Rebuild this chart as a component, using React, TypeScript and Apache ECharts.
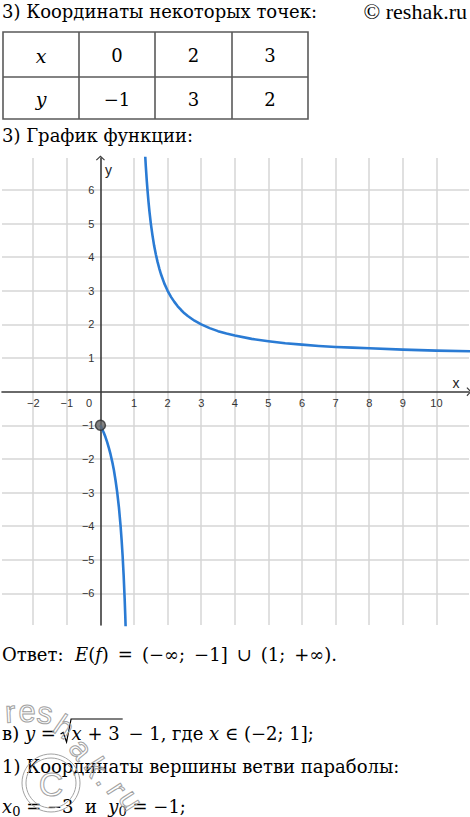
import React, { useEffect, useRef } from "react";
import * as echarts from "echarts";

const PAGE_W = 470;
const PAGE_H = 817;

// Table of sample points of y = (x + 1) / (x - 1)
const tableRowX = ["0", "2", "3"];
const tableRowY = ["\u22121", "3", "2"];

// Axis ticks and grid
const xTickValues = [-2, -1, 1, 2, 3, 4, 5, 6, 7, 8, 9, 10];
const yTickValues = [-6, -5, -4, -3, -2, -1, 1, 2, 3, 4, 5, 6];
const xGridValues = [-2, -1, 1, 2, 3, 4, 5, 6, 7, 8, 9, 10];
const yGridValues = [-6, -5, -4, -3, -2, -1, 1, 2, 3, 4, 5, 6];
const xRange = [-2.93, 10.97];
const yRange = [-6.94, 6.95];

// Right branch of the hyperbola
const rightBranchX = [1.33, 1.35, 1.38, 1.4, 1.43, 1.46, 1.5, 1.55, 1.6, 1.65, 1.7, 1.75, 1.8, 1.9, 2.0, 2.1, 2.2, 2.3, 2.4, 2.5, 2.6, 2.8, 3.0, 3.25, 3.5, 3.75, 4.0, 4.5, 5.0, 5.5, 6.0, 6.5, 7.0, 7.5, 8.0, 9.0, 10.0, 11.0];
const rightBranchY = [7.06, 6.71, 6.26, 6.0, 5.65, 5.35, 5.0, 4.64, 4.33, 4.08, 3.86, 3.67, 3.5, 3.22, 3.0, 2.82, 2.67, 2.54, 2.43, 2.33, 2.25, 2.11, 2.0, 1.89, 1.8, 1.73, 1.67, 1.57, 1.5, 1.44, 1.4, 1.36, 1.33, 1.31, 1.29, 1.25, 1.22, 1.2];

// Left branch, starting at the closed point (0; -1)
const leftBranchX = [0, 0.05, 0.1, 0.15, 0.2, 0.25, 0.3, 0.35, 0.4, 0.45, 0.5, 0.55, 0.6, 0.63, 0.66, 0.69, 0.72, 0.74, 0.76];
const leftBranchY = [-1, -1.11, -1.22, -1.35, -1.5, -1.67, -1.86, -2.08, -2.33, -2.64, -3.0, -3.44, -4.0, -4.41, -4.88, -5.45, -6.14, -6.69, -7.33];

const closedPoint = [0, -1];

const SERIF = '"DejaVu Serif", serif';
const SANS = '"Liberation Sans", Arial, sans-serif';
const TEXT_SIZE = 18;
const TEXT_COLOR = "#000";
const EN = "\u2002";

// A piece of a formula line: text, italic, subscript, optional left edge, or a radical sign opening/closing
type Run = { t?: string; i?: boolean; sub?: boolean; x?: number; rad?: "open" | "close" };

const measureCtx = typeof document !== "undefined" ? document.createElement("canvas").getContext("2d") : null;

function runFont(r: Run, size: number) {
  return `${r.i ? "italic " : ""}${r.sub ? Math.round(size * 0.7) : size}px ${SERIF}`;
}

function textWidth(r: Run, size: number) {
  const s = r.t || "";
  if (!measureCtx) return s.length * size * 0.6;
  measureCtx.font = runFont(r, size);
  return measureCtx.measureText(s).width;
}

function lineOfRuns(runs: Run[], x0: number, y: number, size = TEXT_SIZE) {
  const els: any[] = [];
  let x = x0;
  let radStart = 0;
  runs.forEach((r) => {
    if (r.x !== undefined) x = r.x;
    if (r.rad === "open") {
      radStart = x;
      x += 10;
      return;
    }
    if (r.rad === "close") {
      const top = y - 14;
      els.push({
        type: "polyline",
        shape: {
          points: [
            [radStart - 1, y + 1],
            [radStart + 1.5, y - 0.5],
            [radStart + 5, y + 9],
            [radStart + 9.5, top],
            [x + 3, top],
          ],
        },
        style: { stroke: TEXT_COLOR, lineWidth: 1.2, fill: "none" },
      });
      x += 3;
      return;
    }
    els.push({
      type: "text",
      x,
      y: r.sub ? y + 5 : y,
      style: { text: r.t, font: runFont(r, size), fill: TEXT_COLOR, align: "left", verticalAlign: "middle" },
    });
    x += textWidth(r, size);
  });
  return els;
}

const fmt = (v: number) => (v < 0 ? "\u2212" + Math.abs(v) : String(v));

export default function App() {
  const ref = useRef<HTMLDivElement>(null);

  useEffect(() => {
    const el = ref.current;
    if (!el) return;
    const chart = echarts.init(el, null, { renderer: "svg", width: PAGE_W, height: PAGE_H });

    const axisColor = "#3a3a3a";
    const gridColor = "#d6d6d6";
    const curveColor = "#2a7bd4";
    const chevron = "path://M0,4.2 L4.5,0 L9,4.2 L8.2,5 L4.5,1.5 L0.8,5 Z";

    chart.setOption({
      animation: false,
      backgroundColor: "#ffffff",
      grid: { left: 2, top: 158, width: 467, height: 467, containLabel: false, outerBoundsMode: "none" },
      xAxis: {
        type: "value",
        min: xRange[0],
        max: xRange[1],
        z: 3,
        axisLine: { onZero: true, symbol: ["none", chevron], symbolSize: [9, 5], lineStyle: { color: axisColor, width: 1.6 } },
        axisTick: { show: false },
        splitLine: { show: false },
        axisLabel: { show: false },
      },
      yAxis: {
        type: "value",
        min: yRange[0],
        max: yRange[1],
        z: 3,
        axisLine: { onZero: true, symbol: ["none", chevron], symbolSize: [9, 5], lineStyle: { color: axisColor, width: 1.6 } },
        axisTick: { show: false },
        splitLine: { show: false },
        axisLabel: { show: false },
      },
      series: [
        {
          name: "grid",
          type: "line",
          data: [],
          silent: true,
          z: 1,
          markLine: {
            silent: true,
            z: 1,
            symbol: ["none", "none"],
            label: { show: false },
            lineStyle: { color: gridColor, width: 1.5, type: "solid" },
            emphasis: { disabled: true },
            data: [
              ...xGridValues.map((v) => ({ xAxis: v })),
              ...yGridValues.map((v) => ({ yAxis: v })),
            ],
          },
        },
        {
          name: "right",
          type: "line",
          data: rightBranchX.map((x, i) => [x, rightBranchY[i]]),
          showSymbol: false,
          smooth: false,
          lineStyle: { color: curveColor, width: 2.6, join: "round" },
          z: 4,
        },
        {
          name: "left",
          type: "line",
          data: leftBranchX.map((x, i) => [x, leftBranchY[i]]),
          showSymbol: false,
          smooth: false,
          lineStyle: { color: curveColor, width: 2.6, join: "round" },
          z: 4,
        },
        {
          name: "point",
          type: "scatter",
          data: [closedPoint],
          symbolSize: 10,
          itemStyle: { color: "#646464", borderColor: "#2e2e2e", borderWidth: 1.5 },
          z: 5,
        },
      ],
    });

    const toPx = (p: number[]) => chart.convertToPixel({ gridIndex: 0 }, p) as number[];
    const origin = toPx([0, 0]);
    const xEnd = toPx([xRange[1], 0]);
    const yEnd = toPx([0, yRange[1]]);

    const text = (s: string, x: number, y: number, font: string, align = "left", extra: any = {}) => ({
      type: "text",
      x,
      y,
      style: { text: s, font, fill: TEXT_COLOR, align, verticalAlign: "middle", ...extra },
    });

    // Tick labels placed along the axes through the chart's own scales
    const tickFont = `11px ${SANS}`;
    const tickEls: any[] = [
      ...xTickValues.map((v) => {
        const p = toPx([v, 0]);
        return { ...text(fmt(v), p[0], p[1] + 11.5, tickFont, "center", { fill: "#333" }), z: 6 };
      }),
      ...yTickValues.map((v) => {
        const p = toPx([0, v]);
        return { ...text(fmt(v), p[0] - 6, p[1], tickFont, "right", { fill: "#333" }), z: 6 };
      }),
    ];

    // Table
    const tLeft = 3, tTop = 32, tMid = 77, tBottom = 119;
    const colEdges = [3, 79, 155, 232, 308];
    const tableStroke = { stroke: "#5a5a5a", lineWidth: 1.6 };
    const tableEls: any[] = [
      { type: "rect", shape: { x: tLeft, y: tTop, width: colEdges[4] - tLeft, height: tBottom - tTop }, style: { fill: "none", ...tableStroke } },
      { type: "line", shape: { x1: tLeft, y1: tMid, x2: colEdges[4], y2: tMid }, style: tableStroke },
      ...colEdges.slice(1, 4).map((cx) => ({ type: "line", shape: { x1: cx, y1: tTop, x2: cx, y2: tBottom }, style: tableStroke })),
    ];
    const rowCenters = [(tTop + tMid) / 2 + 1, (tMid + tBottom) / 2 + 1];
    const colCenters = colEdges.slice(0, 4).map((e, i) => (e + colEdges[i + 1]) / 2);
    tableEls.push(text("x", colCenters[0], rowCenters[0], `italic ${TEXT_SIZE + 1}px ${SERIF}`, "center"));
    tableEls.push(text("y", colCenters[0], rowCenters[1], `italic ${TEXT_SIZE + 1}px ${SERIF}`, "center"));
    tableRowX.forEach((v, i) => tableEls.push(text(v, colCenters[i + 1], rowCenters[0], `${TEXT_SIZE}px ${SERIF}`, "center")));
    tableRowY.forEach((v, i) => tableEls.push(text(v, colCenters[i + 1], rowCenters[1], `${TEXT_SIZE}px ${SERIF}`, "center")));

    const plain = `${TEXT_SIZE}px ${SERIF}`;

    // Watermark: outlined letters bending along a curve, plus a copyright ring
    const wm = { fill: "none", stroke: "#a2a2a2", lineWidth: 1 };
    const wmFont = `31px ${SANS}`;
    const wmLetters: [string, number, number, number][] = [
      ["r", 10, 712, 0.05],
      ["e", 27, 711, 0],
      ["s", 45, 713, -0.15],
      ["h", 64, 727, -0.6],
      ["a", 81, 749, -0.9],
      ["k", 96, 767, -1.0],
      [".", 106, 779, -1.0],
      ["r", 117, 789, -1.0],
      ["u", 131, 800, -1.0],
    ];
    const wmEls: any[] = wmLetters.map(([ch, x, y, rot]) => ({
      type: "text",
      x,
      y,
      rotation: rot,
      z: 20,
      style: { text: ch, font: wmFont, align: "center", verticalAlign: "middle", ...wm },
    }));
    wmEls.push(
      { type: "circle", z: 20, shape: { cx: 51, cy: 783, r: 29 }, style: { ...wm } },
      { type: "circle", z: 20, shape: { cx: 51, cy: 783, r: 25 }, style: { ...wm } },
      { type: "text", x: 51, y: 784, z: 20, style: { text: "C", font: `34px ${SANS}`, align: "center", verticalAlign: "middle", ...wm } }
    );

    chart.setOption({
      graphic: {
        elements: [
          text("3) Координаты некоторых точек:", 2, 11, plain),
          text("\u00a9 reshak.ru", 467, 11, `22px "Liberation Serif", serif`, "right"),
          ...tableEls,
          text("3) График функции:", 2, 135, plain),
          ...tickEls,
          // axis captions
          { ...text("0", origin[0] - 11.5, origin[1] + 11.5, `11px ${SANS}`, "center", { fill: "#333" }), z: 6 },
          { ...text("x", xEnd[0] - 13, xEnd[1] - 9, `14px ${SANS}`, "center", { fill: "#222" }), z: 6 },
          { ...text("y", yEnd[0] + 8, yEnd[1] + 12, `14px ${SANS}`, "center", { fill: "#222" }), z: 6 },
          ...lineOfRuns(
            [
              { t: "Ответ:", x: 2 },
              { t: "E", i: true, x: 75 },
              { t: "(" },
              { t: "f", i: true },
              { t: `)${EN}=${EN}(\u2212\u221e;${EN}\u22121]${EN}\u222a${EN}(1;${EN}+\u221e).` },
            ],
            2,
            654
          ),
          ...lineOfRuns(
            [
              { t: "в) ", x: 2 },
              { t: "y", i: true },
              { t: " = " },
              { rad: "open" },
              { t: "x", i: true },
              { t: " + 3" },
              { rad: "close" },
              { t: " \u2212 1, где " },
              { t: "x", i: true },
              { t: " \u2208 (\u22122; 1];" },
            ],
            2,
            733
          ),
          text("1) Координаты вершины ветви параболы:", 2, 766, plain),
          ...lineOfRuns(
            [
              { t: "x", i: true, x: 2 },
              { t: "0", sub: true },
              { t: " = \u22123  и  " },
              { t: "y", i: true },
              { t: "0", sub: true },
              { t: " = \u22121;" },
            ],
            2,
            806
          ),
          ...wmEls,
        ],
      },
    });

    return () => chart.dispose();
  }, []);

  return (
    <div
      ref={ref}
      style={{ position: "absolute", left: 0, top: 0, width: PAGE_W, height: PAGE_H, background: "#fff" }}
    />
  );
}
